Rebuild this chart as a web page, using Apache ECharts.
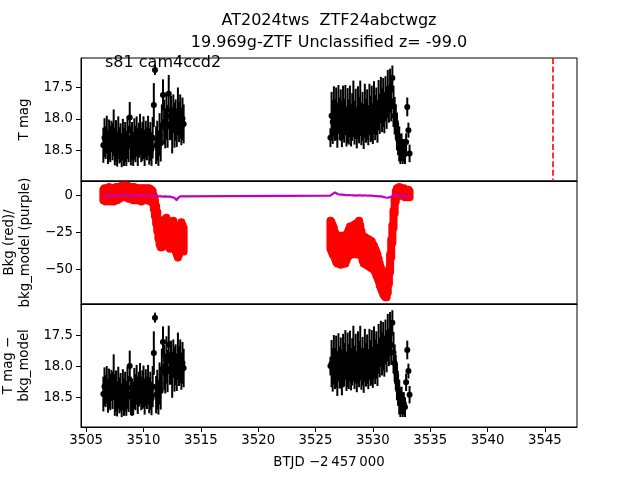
<!DOCTYPE html>
<html><head><meta charset="utf-8">
<script src="https://cdn.jsdelivr.net/npm/echarts@6/dist/echarts.min.js"></script>
<style>html,body{margin:0;padding:0;background:#fff}#c{width:640px;height:480px}</style>
</head><body><div id="c"></div>
<script>
// ---- time stamps (BTJD - 2457000) ----
const t1 = [3506.5,3506.6,3506.7,3506.8,3506.9,3507.0,3507.1,3507.2,3507.3,3507.4,
3507.5,3507.6,3507.7,3507.8,3507.9,3508.0,3508.1,3508.2,3508.3,3508.4,
3508.5,3508.6,3508.7,3508.8,3508.9,3509.0,3509.1,3509.2,3509.3,3509.4,
3509.5,3509.6,3509.7,3509.8,3509.9,3510.0,3510.1,3510.2,3510.3,3510.4,
3510.5,3510.6,3510.7,3510.8,3510.9,3511.0,3511.1,3511.2,3511.3,3511.4,
3511.5,3511.6,3511.7,3511.8,3511.9,3512.0,3512.1,3512.2,3512.3,3512.4,
3512.5,3512.6,3512.7,3512.8,3512.9,3513.0,3513.1,3513.2,3513.3,3513.4,3513.5];
const t2 = [3526.3,3526.4,3526.5,3526.6,3526.7,3526.8,3526.9,3527.0,3527.1,3527.2,
3527.3,3527.4,3527.5,3527.6,3527.7,3527.8,3527.9,3528.0,3528.1,3528.2,
3528.3,3528.4,3528.5,3528.6,3528.7,3528.8,3528.9,3529.0,3529.1,3529.2,
3529.3,3529.4,3529.5,3529.6,3529.7,3529.8,3529.9,3530.0,3530.1,3530.2,
3530.3,3530.4,3530.5,3530.6,3530.7,3530.8,3530.9,3531.0,3531.1,3531.2,
3531.3,3531.4,3531.5,3531.6,3531.7,3531.8,3531.9,3532.0,3532.1,3532.2,
3532.3,3532.4,3532.5,3532.6,3532.7,3532.8,3532.9,3533.0,3533.1,3533.2];

// ---- panel 1: T mag ----
const mag1a = [18.42,18.30,18.38,18.25,18.45,18.33,18.40,18.28,18.36,18.22,
18.44,18.35,18.48,18.30,18.42,18.38,18.50,18.33,18.45,18.37,
18.47,18.30,18.40,17.98,18.43,18.35,18.48,18.32,18.40,18.28,
18.45,18.34,18.25,18.42,18.36,18.30,18.46,18.33,18.40,18.27,
18.44,18.36,18.48,18.30,17.78,17.22,18.42,18.35,18.47,18.25,
18.38,18.10,17.62,18.05,18.15,17.95,18.12,17.60,18.08,17.98,
18.18,17.92,18.10,18.02,18.15,17.88,18.05,17.96,18.12,18.00,18.08];
const err1a = [0.28,0.31,0.26,0.30,0.27,0.32,0.29,0.25,0.30,0.37,
0.30,0.33,0.28,0.34,0.29,0.31,0.27,0.33,0.30,0.32,
0.28,0.34,0.29,0.25,0.31,0.30,0.27,0.33,0.29,0.32,
0.30,0.28,0.33,0.27,0.31,0.34,0.29,0.30,0.26,0.32,
0.29,0.31,0.27,0.33,0.35,0.08,0.30,0.32,0.28,0.34,
0.30,0.33,0.25,0.36,0.32,0.38,0.34,0.30,0.26,0.35,
0.37,0.31,0.36,0.33,0.30,0.38,0.32,0.35,0.30,0.34,0.31];
const mag1b = [18.30,17.95,18.05,17.88,18.02,17.92,18.10,17.85,18.00,17.94,
18.08,17.90,18.03,17.86,18.12,17.95,18.05,17.88,18.10,17.97,
17.84,18.06,17.92,18.14,17.90,18.02,17.83,18.08,17.96,18.12,
17.87,18.03,17.93,18.10,17.85,18.00,17.91,18.07,17.82,17.98,
17.88,18.04,17.78,17.92,17.70,17.86,17.74,17.90,17.68,17.82,
17.60,17.76,17.55,17.72,17.35,17.80,17.95,18.05,18.20,18.32,
18.40,18.48,18.45,18.52,18.50,18.56,18.37,17.81,18.18,18.55];
const err1b = [0.15,0.38,0.35,0.40,0.33,0.42,0.36,0.39,0.34,0.41,
0.37,0.43,0.35,0.40,0.32,0.44,0.36,0.41,0.34,0.38,
0.45,0.35,0.40,0.33,0.42,0.37,0.44,0.34,0.39,0.36,
0.43,0.35,0.40,0.32,0.41,0.37,0.44,0.33,0.42,0.36,
0.38,0.34,0.40,0.32,0.37,0.35,0.39,0.33,0.36,0.34,
0.38,0.30,0.35,0.32,0.20,0.33,0.30,0.28,0.30,0.26,
0.28,0.24,0.22,0.20,0.18,0.16,0.14,0.15,0.12,0.14];

// ---- panel 2: background (red, upper/lower envelope of the points) ----
const bkgHiA = [4,5,3,5,4,6,4,5,3,5,
4,6,5,5,6,6,7,6,7,7,
6,7,6,6,5,6,5,6,4,5,
5,4,5,3,5,4,5,4,5,4,
5,3,4,3,0,-3,-7,-11,-16,-20,
-24,-23,-20,-18,-16,-15,-17,-20,-22,-20,
-18,-17,-20,-23,-25,-27,-24,-20,-18,-20,-22];
const bkgLoA = [-3,-2,-4,-2,-3,-2,-4,-3,-2,-4,
-3,-2,-3,-1,-2,-1,0,-1,0,-1,
-1,0,-2,-1,-2,-1,-3,-2,-3,-2,
-3,-3,-2,-4,-3,-2,-3,-3,-2,-3,
-3,-4,-3,-5,-9,-14,-19,-24,-29,-33,
-35,-35,-33,-30,-28,-30,-33,-35,-36,-33,
-30,-31,-35,-38,-40,-42,-40,-38,-36,-37,-38];
const bkgHiB = [-17,-18,-20,-22,-25,-28,-29,-27,-28,-30,
-29,-27,-28,-29,-27,-25,-23,-21,-22,-23,
-20,-21,-19,-21,-18,-17,-20,-24,-27,-29,
-28,-30,-29,-31,-30,-32,-31,-33,-34,-36,
-38,-40,-43,-46,-49,-52,-55,-58,-60,-62,
-58,-50,-40,-30,-20,-10,-2,3,5,5,
6,5,5,4,5,4,4,3,4,3];
const bkgLoB = [-36,-38,-40,-41,-43,-45,-46,-45,-46,-47,
-45,-44,-46,-46,-44,-42,-41,-40,-38,-40,
-38,-39,-37,-40,-37,-36,-38,-41,-44,-46,
-45,-47,-46,-48,-47,-49,-48,-50,-50,-52,
-54,-56,-58,-61,-63,-65,-67,-68,-69,-69,
-66,-60,-52,-42,-32,-22,-12,-4,0,1,
1,0,1,0,0,-1,0,-1,0,-1];
// ---- panel 2: background model (purple) ----
const modA = [0.2,0,-0.2,0.1,0,0.3,0.1,-0.1,0,0.2,
0.1,0,-0.1,0.2,0.3,0.1,0,0.2,0.4,0.3,
0.2,0.1,0.3,0.2,0,0.1,-0.1,0,0.2,0.1,
0,-0.2,0.1,0,-0.1,0.2,0,-0.1,0.1,0,
-0.2,0,0.1,-0.1,0,-0.3,-0.2,0,-0.4,-0.3,
-0.5,-0.3,-0.6,-0.4,-0.5,-0.7,-0.6,-0.8,-0.6,-0.9,
-1.0,-1.2,-1.5,-1.8,-3.0,-1.6,-0.7,-0.5,-0.6,-0.4,-0.5];
const modB = [0,0.3,1.2,2.0,2.3,1.8,1.2,1.0,0.8,0.6,
0.7,0.5,0.6,0.4,0.3,0.5,0.4,0.2,0.3,0.4,
0.2,0.3,0.1,0.2,0.3,0.1,0.2,0,0.1,0.2,
0.3,0.1,0,0.2,0.1,-0.1,0,0.1,-0.2,0,
-0.3,-0.1,-0.4,-0.2,-0.5,-0.6,-0.8,-1.0,-1.2,-1.3,
-1.4,-1.2,-1.0,-0.6,-0.2,0.4,0.8,1.0,0.7,0.5,
0.2,0.4,-0.2,0.1,-0.3,0.2,-0.1,0.3,-0.2,0];

// ---- panel 3: T mag - bkg_model ----
const mag3a = [18.45,18.33,18.40,18.30,18.48,18.36,18.42,18.31,18.39,18.18,
18.50,18.40,18.53,18.35,18.47,18.42,18.55,18.38,18.50,18.41,
18.52,18.35,18.45,18.00,18.48,18.50,18.52,18.36,18.42,18.30,
18.47,18.37,18.28,18.44,18.38,18.33,18.49,18.35,18.43,18.30,
18.47,18.40,18.52,18.33,17.79,17.22,18.46,18.38,18.50,18.28,
18.40,18.05,17.61,18.02,18.12,17.90,18.08,17.65,18.04,17.94,
18.14,17.88,18.05,17.98,18.10,17.84,18.00,17.92,18.08,17.95,18.03];
const mag3b = [18.00,17.96,18.06,17.90,18.04,17.93,18.12,17.86,18.02,17.95,
18.10,17.91,17.98,17.82,18.08,17.90,18.01,17.84,18.05,17.93,
17.80,18.02,17.88,18.09,17.86,17.97,17.79,18.04,17.92,18.07,
17.83,17.98,17.89,18.05,17.81,17.95,17.86,18.02,17.78,17.93,
17.82,17.98,17.72,17.86,17.64,17.80,17.68,17.84,17.61,17.76,
17.54,17.70,17.48,17.66,17.30,17.78,17.95,18.10,18.25,18.38,
18.50,18.58,18.55,18.62,18.60,18.66,18.26,17.74,18.08,18.46];

// ---- ticks / annotations ----
const xTicks = [3505,3510,3515,3520,3525,3530,3535,3540,3545];
const y1Ticks = [17.5,18.0,18.5];
const y2Ticks = [0,-25,-50];
const y3Ticks = [17.5,18.0,18.5];
const vlineX = [3545.68];

const FONT = 'DejaVu Sans';
const t = t1.concat(t2);
const m1 = mag1a.concat(mag1b), e1 = err1a.concat(err1b);
const m3 = mag3a.concat(mag3b);
const bHi = bkgHiA.concat(bkgHiB), bLo = bkgLoA.concat(bkgLoB);
const mod = modA.concat(modB);

const errData = (m) => t.map((x,i)=>[x, m[i], e1[i]]);
const ptData = (m) => t.map((x,i)=>[x, m[i]]);
const bandData = t.map((x,i)=>[x, bHi[i], bLo[i]]);

function errRender(params, api){
  const x = api.value(0), y = api.value(1), e = api.value(2);
  const a = api.coord([x, y - e]), b = api.coord([x, y + e]);
  return {type:'line', shape:{x1:a[0],y1:a[1],x2:b[0],y2:b[1]}, style:{stroke:'#000', lineWidth:2}};
}
function bandRender(params, api){
  const x = api.value(0);
  const a = api.coord([x, api.value(1)]), b = api.coord([x, api.value(2)]);
  return {type:'line', shape:{x1:a[0],y1:a[1],x2:b[0],y2:b[1]}, style:{stroke:'#ff0000', lineWidth:8, lineCap:'round'}};
}

const L = 81, R = 63, H = 123, tops = [58,181,304];
const fmtMinus = v => String(v).replace('-', '\u2212');

function xAxis(i){
  return {
    gridIndex:i, type:'value', min:3504.55, max:3547.8,
    axisLine:{show:true, onZero:false, lineStyle:{color:'#000', width:1}},
    axisTick:{show:i===2, length:5, lineStyle:{color:'#000'}, customValues:xTicks},
    axisLabel:{show:i===2, color:'#000', fontFamily:FONT, fontSize:13.3, margin:7, customValues:xTicks, formatter: v => String(v)},
    splitLine:{show:false},
    name: i===2 ? 'BTJD \u22122\u2009457\u2009000' : '',
    nameLocation:'middle', nameGap:29,
    nameTextStyle:{color:'#000', fontFamily:FONT, fontSize:13.3}
  };
}
function yAxis(i, min, max, inv, ticks, name, gap, fmt){
  return {
    gridIndex:i, type:'value', min:min, max:max, inverse:inv,
    axisLine:{show:true, onZero:false, lineStyle:{color:'#000', width:1}},
    axisTick:{show:true, length:5, lineStyle:{color:'#000'}, customValues:ticks},
    axisLabel:{show:true, color:'#000', fontFamily:FONT, fontSize:13.3, margin:8, customValues:ticks, formatter:fmt},
    splitLine:{show:false},
    name:name, nameLocation:'middle', nameGap:gap, nameRotate:90,
    nameTextStyle:{color:'#000', fontFamily:FONT, fontSize:13.3, lineHeight:16}
  };
}

const chart = echarts.init(document.getElementById('c'), null, {renderer:'canvas'});
chart.setOption({
  animation:false,
  backgroundColor:'#fff',
  grid: tops.map(tp => ({left:L, right:R, top:tp, height:H, show:true, borderColor:'#000', borderWidth:1,
    backgroundColor:'transparent', containLabel:false, outerBoundsMode:'none'})),
  xAxis:[xAxis(0), xAxis(1), xAxis(2)],
  yAxis:[
    yAxis(0, 17.03, 18.99, true, y1Ticks, 'T mag', 47, v => v.toFixed(1)),
    yAxis(1, -73.6, 10, false, y2Ticks, 'Bkg (red)/\nbkg_model (purple)', 39, fmtMinus),
    yAxis(2, 17.0, 18.98, true, y3Ticks, 'T mag \u2212\nbkg_model', 39, v => v.toFixed(1))
  ],
  graphic:[
    {type:'text', style:{text:'AT2024tws  ZTF24abctwgz', font:'16px "DejaVu Sans"', fill:'#000', textAlign:'center'}, position:[329,13]},
    {type:'text', style:{text:'19.969g-ZTF Unclassified z= -99.0', font:'16px "DejaVu Sans"', fill:'#000', textAlign:'center'}, position:[329,35]},
    {type:'text', style:{text:'s81 cam4ccd2', font:'16px "DejaVu Sans"', fill:'#000', textAlign:'left'}, position:[105,55], z:100}
  ],
  series:[
    {type:'custom', xAxisIndex:0, yAxisIndex:0, data:errData(m1), renderItem:errRender, encode:{x:0,y:1}, clip:true, z:2},
    {type:'scatter', xAxisIndex:0, yAxisIndex:0, data:ptData(m1), symbolSize:6, itemStyle:{color:'#000', opacity:1}, z:3,
      markLine:{silent:true, symbol:'none', label:{show:false}, lineStyle:{color:'#ff0000', type:[6,2.6], width:1.6},
        data: vlineX.map(v=>({xAxis:v}))}},
    {type:'custom', xAxisIndex:1, yAxisIndex:1, data:bandData, renderItem:bandRender, encode:{x:0,y:[1,2]}, clip:true, z:2},
    {type:'line', xAxisIndex:1, yAxisIndex:1, data:ptData(mod), showSymbol:false, symbol:'none', lineStyle:{color:'#bf00bf', width:2.2}, z:3},
    {type:'custom', xAxisIndex:2, yAxisIndex:2, data:errData(m3), renderItem:errRender, encode:{x:0,y:1}, clip:true, z:2},
    {type:'scatter', xAxisIndex:2, yAxisIndex:2, data:ptData(m3), symbolSize:6, itemStyle:{color:'#000', opacity:1}, z:3}
  ]
});
</script></body></html>
